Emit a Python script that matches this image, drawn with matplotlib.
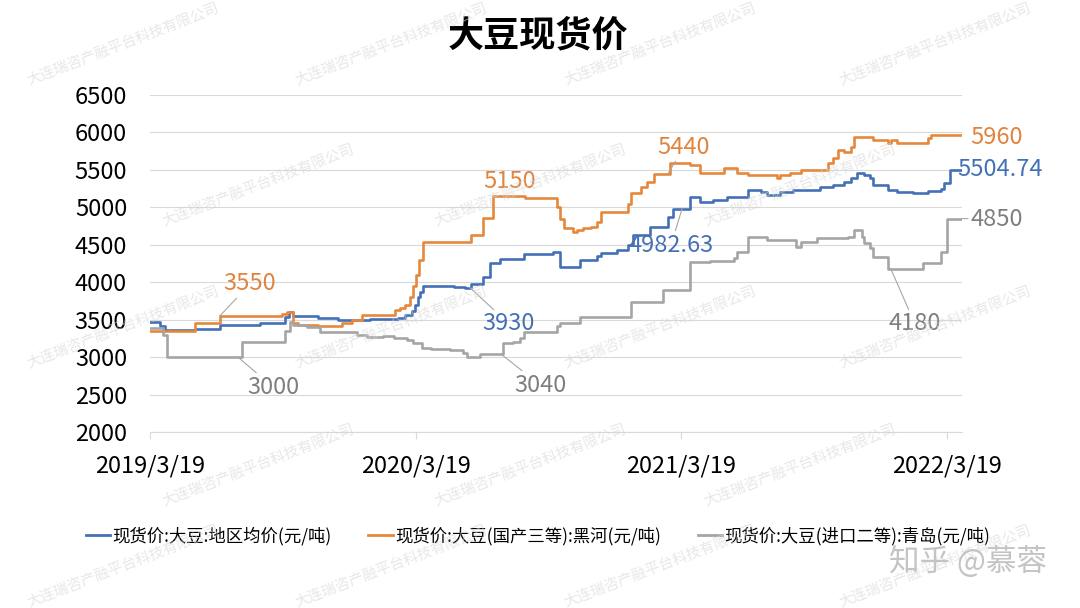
import numpy as np
import pandas as pd
import matplotlib
matplotlib.use('Agg')
import matplotlib.pyplot as plt

plt.rcParams['font.family'] = ['Noto Sans CJK SC', 'DejaVu Sans']

# 现货价:大豆:地区均价(元/吨)
avg_dates = ['2019-03-19', '2019-04-02', '2019-04-09', '2019-05-20', '2019-06-23', '2019-08-17',
             '2019-09-21', '2019-09-26', '2019-10-02', '2019-11-05', '2019-12-02', '2020-01-15',
             '2020-02-23', '2020-03-04', '2020-03-14', '2020-03-18', '2020-03-22', '2020-03-25',
             '2020-03-29', '2020-05-10', '2020-05-25', '2020-06-02', '2020-06-19', '2020-06-29',
             '2020-07-13', '2020-08-14', '2020-09-24', '2020-10-03', '2020-10-31', '2020-11-23',
             '2020-11-28', '2020-12-21', '2021-01-04', '2021-01-12', '2021-02-04', '2021-02-28',
             '2021-03-08', '2021-03-31', '2021-04-14', '2021-05-01', '2021-05-21', '2021-06-18',
             '2021-07-06', '2021-07-15', '2021-08-02', '2021-08-20', '2021-09-26', '2021-10-14',
             '2021-10-28', '2021-11-07', '2021-11-16', '2021-11-25', '2021-12-04', '2021-12-08',
             '2021-12-28', '2022-01-10', '2022-02-01', '2022-02-21', '2022-03-11', '2022-03-15',
             '2022-03-24', '2022-04-08']
avg_vals = [3470, 3420, 3360, 3380, 3430, 3450,
            3530, 3600, 3550, 3520, 3495, 3505,
            3525, 3560, 3610, 3700, 3800, 3870,
            3950, 3940, 3920, 3975, 4075, 4255,
            4310, 4375, 4405, 4207, 4296, 4350,
            4394, 4430, 4496, 4630, 4740, 4874,
            4982.63, 5141, 5075, 5095, 5141, 5230,
            5210, 5163, 5208, 5230, 5275, 5300,
            5342, 5386, 5453, 5430, 5390, 5297,
            5230, 5210, 5186, 5217, 5250, 5320,
            5504.74, 5504.74]

# 现货价:大豆(国产三等):黑河(元/吨)
hh_dates = ['2019-03-19', '2019-05-20', '2019-06-23', '2019-09-17', '2019-09-24', '2019-10-02',
            '2019-10-09', '2019-11-05', '2019-12-08', '2019-12-22', '2020-01-05', '2020-02-19',
            '2020-02-26', '2020-03-04', '2020-03-11', '2020-03-15', '2020-03-19', '2020-03-23',
            '2020-03-29', '2020-06-02', '2020-06-19', '2020-07-03', '2020-08-16', '2020-09-29',
            '2020-10-03', '2020-10-08', '2020-10-21', '2020-10-27', '2020-11-03', '2020-11-14',
            '2020-11-23', '2020-11-28', '2021-01-04', '2021-01-08', '2021-01-22', '2021-01-31',
            '2021-02-09', '2021-03-04', '2021-03-31', '2021-04-14', '2021-05-16', '2021-06-04',
            '2021-06-18', '2021-07-29', '2021-08-02', '2021-08-16', '2021-08-30', '2021-10-06',
            '2021-10-14', '2021-10-20', '2021-10-28', '2021-11-07', '2021-11-11', '2021-12-08',
            '2021-12-28', '2022-01-01', '2022-01-10', '2022-02-21', '2022-02-25', '2022-04-08']
hh_vals = [3350, 3455, 3550, 3570, 3606, 3455,
           3430, 3415, 3455, 3495, 3562, 3630,
           3660, 3696, 3807, 3950, 4100, 4300,
           4540, 4630, 4853, 5150, 5120, 5000,
           4850, 4719, 4674, 4700, 4719, 4741,
           4808, 4941, 5050, 5186, 5275, 5342,
           5440, 5586, 5564, 5453, 5519, 5453,
           5430, 5386, 5430, 5462, 5497, 5586,
           5653, 5764, 5740, 5808, 5942, 5897,
           5853, 5897, 5853, 5920, 5960, 5960]

# 现货价:大豆(进口二等):青岛(元/吨)
qd_dates = ['2019-03-19', '2019-04-06', '2019-04-11', '2019-07-24', '2019-09-21', '2019-09-28',
            '2019-10-02', '2019-10-21', '2019-11-08', '2019-12-29', '2020-01-12', '2020-02-03',
            '2020-02-17', '2020-03-07', '2020-03-15', '2020-03-27', '2020-04-08', '2020-05-05',
            '2020-05-23', '2020-05-28', '2020-06-15', '2020-07-16', '2020-07-31', '2020-08-09',
            '2020-08-14', '2020-09-29', '2020-10-03', '2020-10-31', '2021-01-08', '2021-02-22',
            '2021-03-31', '2021-04-28', '2021-05-30', '2021-06-04', '2021-06-18', '2021-07-15',
            '2021-08-23', '2021-08-30', '2021-09-22', '2021-11-03', '2021-11-11', '2021-11-23',
            '2021-11-25', '2021-12-04', '2021-12-08', '2021-12-28', '2022-02-15', '2022-03-11',
            '2022-03-20', '2022-04-08']
qd_vals = [3390, 3300, 3000, 3206, 3350, 3472,
           3428, 3406, 3340, 3295, 3273, 3285,
           3260, 3228, 3184, 3117, 3110, 3095,
           3050, 3005, 3040, 3184, 3200, 3250,
           3340, 3420, 3450, 3540, 3740, 3896,
           4274, 4290, 4318, 4407, 4607, 4563,
           4474, 4540, 4585, 4607, 4697, 4600,
           4519, 4452, 4341, 4180, 4252, 4407,
           4850, 4850]

series_names = ['现货价:大豆:地区均价(元/吨)', '现货价:大豆(国产三等):黑河(元/吨)',
                '现货价:大豆(进口二等):青岛(元/吨)']
line_colors = ['#4471B6', '#E5883C', '#A5A5A5']
label_colors = ['#4471B6', '#E0843E', '#7F7F7F']

tick_dates = ['2019-03-19', '2020-03-19', '2021-03-19', '2022-03-19']
tick_labels = ['2019/3/19', '2020/3/19', '2021/3/19', '2022/3/19']

# labelled points: (series index, date, value, text)
labels = [(1, '2019-06-23', 3550, '3550'),
          (2, '2019-07-18', 3000, '3000'),
          (0, '2020-06-01', 3930, '3930'),
          (2, '2020-07-14', 3040, '3040'),
          (1, '2020-07-26', 5150, '5150'),
          (1, '2021-02-28', 5440, '5440'),
          (0, '2021-03-20', 4982.63, '4982.63'),
          (1, '2022-04-08', 5960, '5960'),
          (0, '2022-04-08', 5504.74, '5504.74'),
          (2, '2022-04-08', 4850, '4850'),
          (2, '2022-01-01', 4180, '4180')]
# label text positions in image pixels (x, y from top), and whether a leader line is drawn
label_pos = [(250, 284, True), (273, 387, True), (509, 324, True), (540, 385, True),
             (510, 181, False), (684, 147, True), (671, 245, True), (997, 137, False),
             (1000, 170, False), (997, 219, True), (915, 324, True)]

W, H = 1080, 608
fig = plt.figure(figsize=(W / 100, H / 100), dpi=100)
fig.patch.set_facecolor('white')
ax = fig.add_axes([150 / W, (H - 432) / H, (962 - 150) / W, (432 - 95) / H])

all_dates = [avg_dates, hh_dates, qd_dates]
all_vals = [avg_vals, hh_vals, qd_vals]
for d, v, name, c in zip(all_dates, all_vals, series_names, line_colors):
    ax.plot(pd.to_datetime(d), v, drawstyle='steps-post', color=c, lw=1.9,
            label=name, zorder=3)

ax.set_ylim(2000, 6500)
ax.set_yticks(np.arange(2000, 6501, 500))
ax.set_xlim(pd.Timestamp('2019-03-19'), pd.Timestamp('2022-04-09'))
ax.set_xticks(pd.to_datetime(tick_dates))
ax.set_xticklabels(tick_labels)

ax.grid(axis='y', color='#d9d9d9', lw=0.8, zorder=0)
for s in ['top', 'right', 'left']:
    ax.spines[s].set_visible(False)
ax.spines['bottom'].set_color('#d9d9d9')
ax.spines['bottom'].set_linewidth(0.8)
ax.tick_params(axis='y', length=0, pad=16.5, labelsize=17, labelcolor='#000000')
ax.tick_params(axis='x', length=5, width=0.8, color='#d9d9d9', pad=11,
               labelsize=17, labelcolor='#000000')

for (si, d, v, txt), (px, py, lead) in zip(labels, label_pos):
    props = None
    if lead:
        props = dict(arrowstyle='-', color='#a6a6a6', lw=0.8, shrinkA=0, shrinkB=0)
    ax.annotate(txt, xy=(pd.Timestamp(d), v), xytext=(px, H - py), textcoords='figure pixels',
                ha='center', va='center', fontsize=17, color=label_colors[si],
                arrowprops=props, zorder=4)

fig.text(538 / W, 1 - 36 / H, '大豆现货价', ha='center', va='center',
         fontsize=26, fontweight='bold', color='#000000')

leg = fig.legend(loc='center', bbox_to_anchor=(538 / W, 1 - 536 / H), ncol=3, frameon=False,
                 fontsize=12.5, handlelength=1.4, handletextpad=0.15, columnspacing=2.1)
for line in leg.get_lines():
    line.set_linewidth(2.0)

# watermark tiles
rows_y = [44, 185, 327, 465, 566]
for i, wy in enumerate(rows_y):
    xs = [123, 391, 660, 935] if i % 2 == 0 else [258, 530, 800]
    for wx in xs:
        fig.text(wx / W, 1 - wy / H, '大连瑞咨产融平台科技有限公司', ha='center', va='center',
                 rotation=21, rotation_mode='anchor', fontsize=10.5, color='#d4d4d4',
                 alpha=0.55, zorder=10)

fig.text(968 / W, 1 - 562 / H, '知乎 @慕蓉', ha='center', va='center', fontsize=22,
         color='#c4c4c4', zorder=11)

fig.savefig('out.png', dpi=100)
